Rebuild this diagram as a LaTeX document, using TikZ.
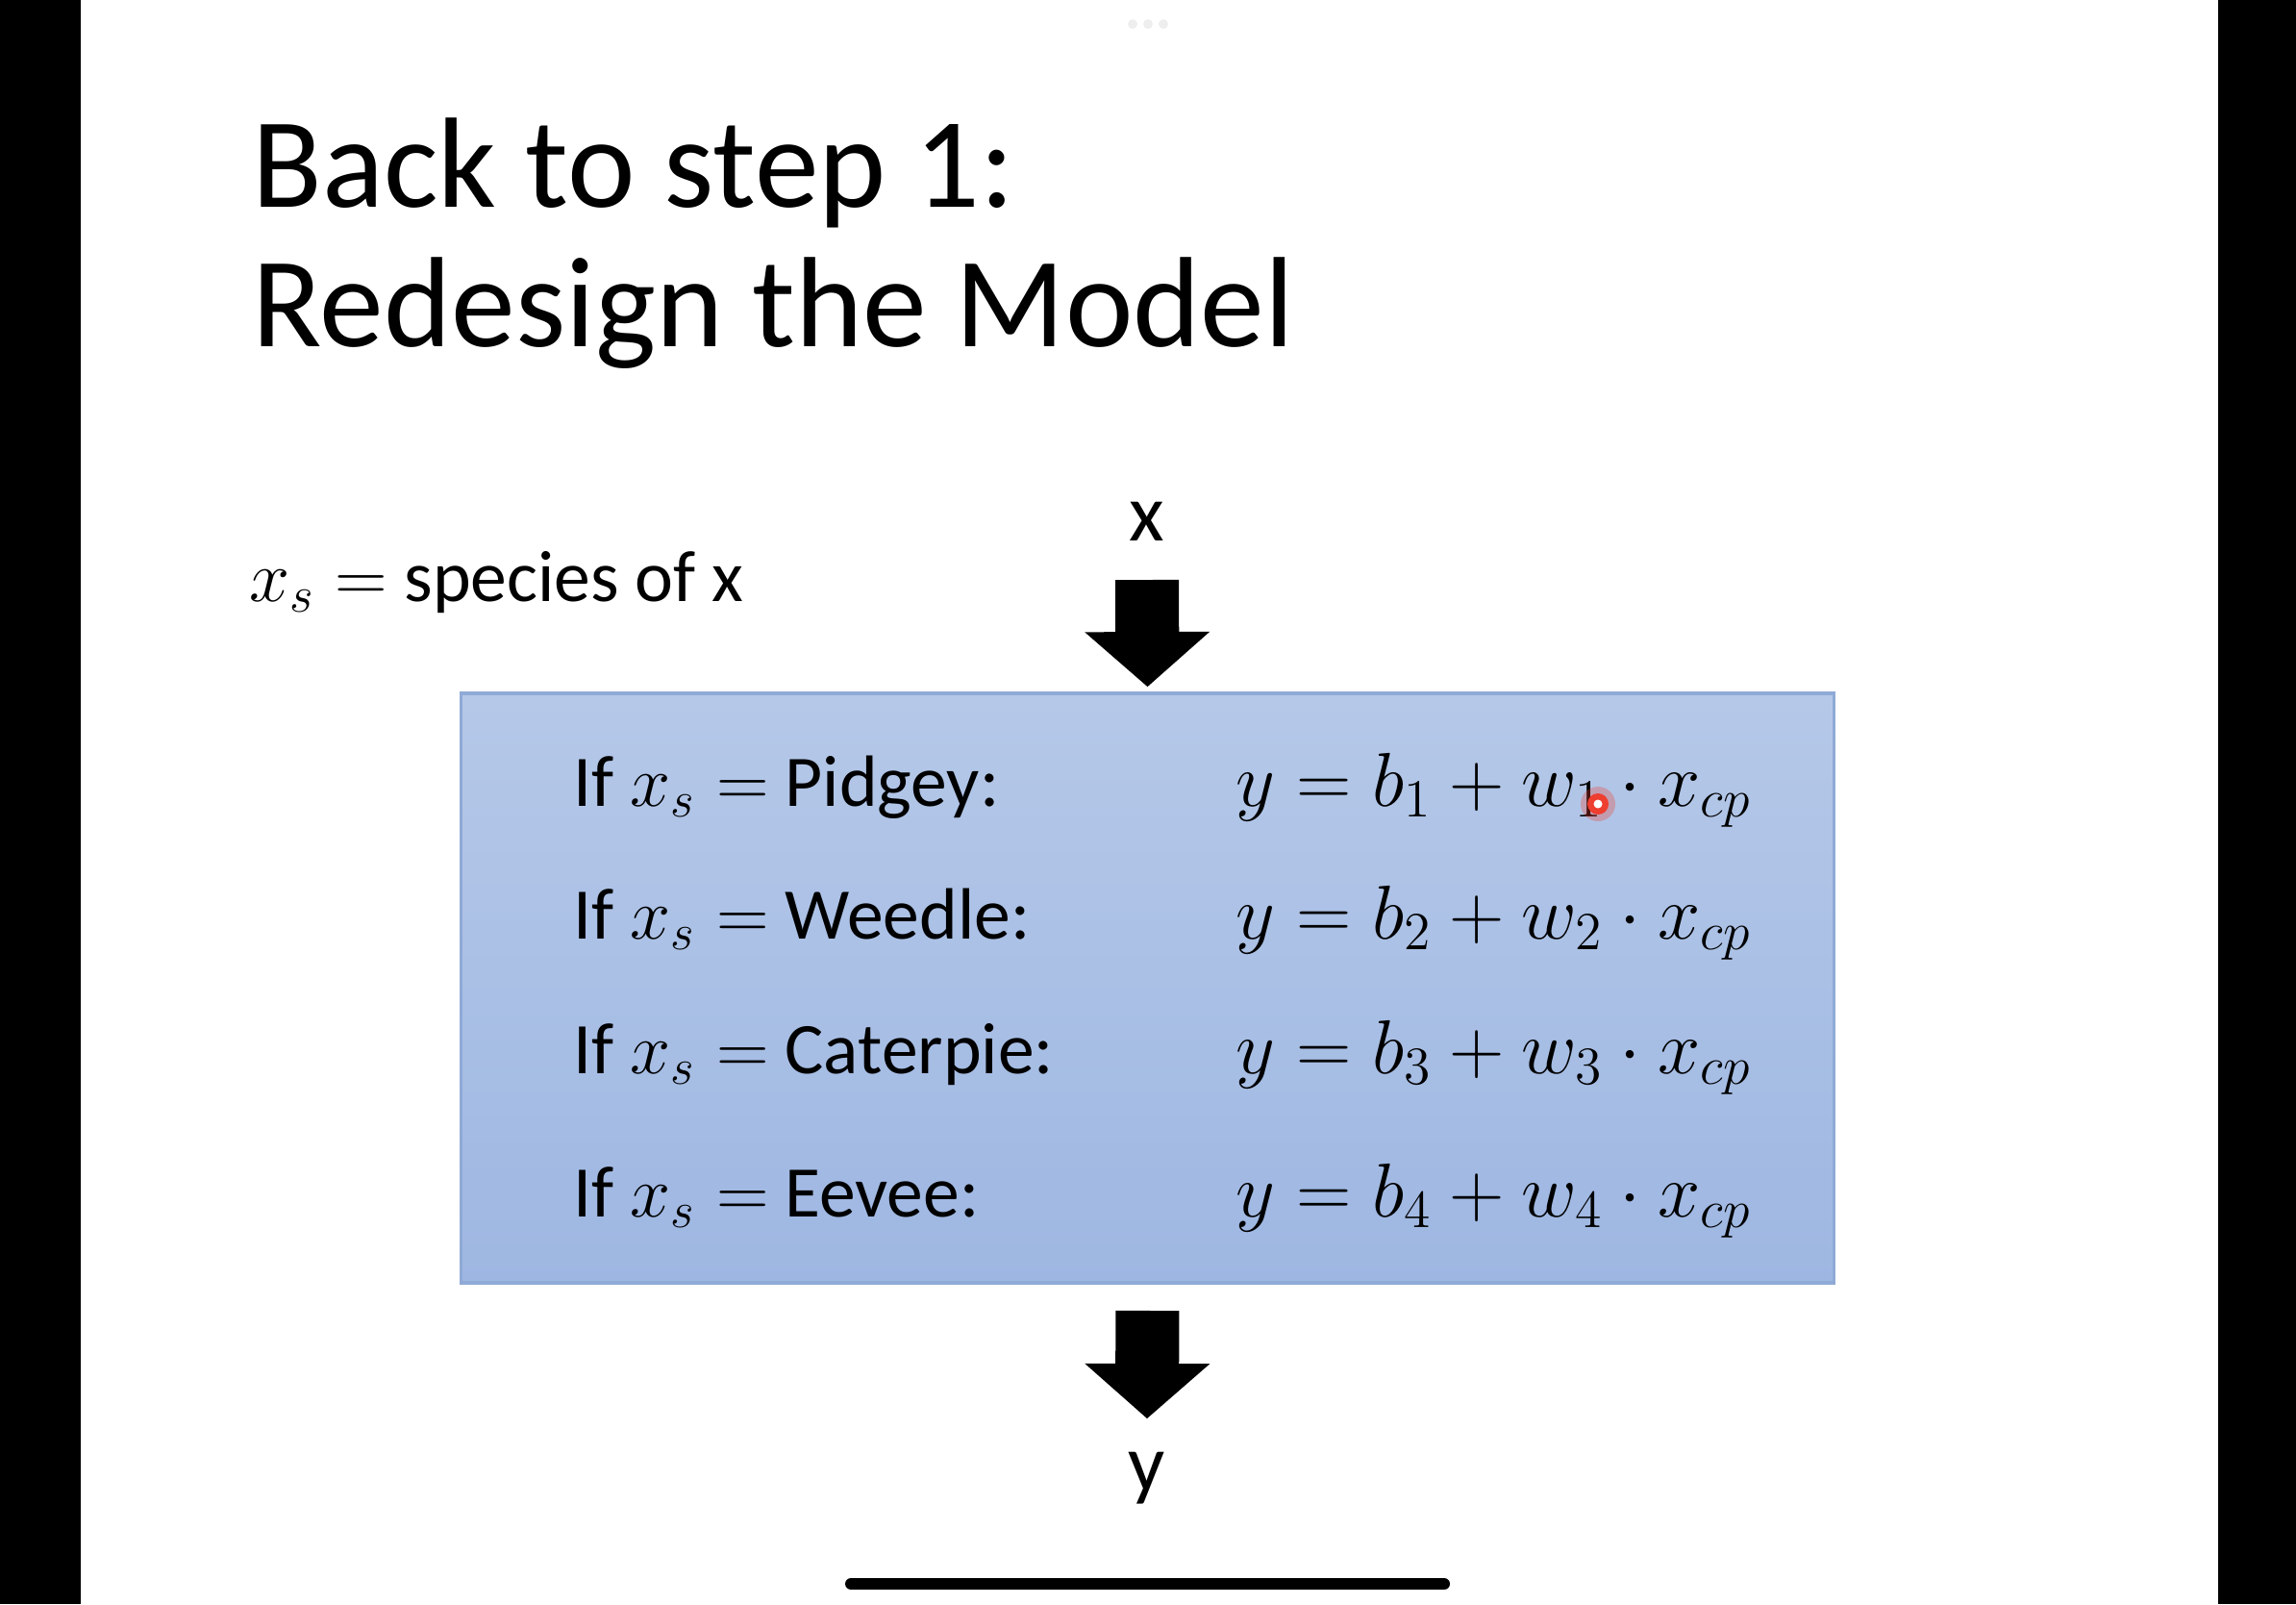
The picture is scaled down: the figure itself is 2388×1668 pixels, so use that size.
\documentclass[tikz,border=0pt]{standalone}
\usepackage{fix-cm}
\usepackage{fontspec}
\setmainfont{Carlito}
\usetikzlibrary{arrows.meta,positioning}
\definecolor{boxtop}{RGB}{181,200,232}
\definecolor{boxbottom}{RGB}{158,183,226}
\definecolor{boxedge}{RGB}{143,170,214}
\definecolor{dotgray}{RGB}{238,238,238}
\definecolor{laser}{RGB}{238,62,48}
\tikzset{
  titletext/.style={anchor=base west, inner sep=0pt, font=\fontsize{38}{46}\selectfont},
  bodytext/.style={anchor=base west, inner sep=0pt, font=\fontsize{21.5}{26}\selectfont},
  eqtext/.style={anchor=base west, inner sep=0pt, font=\fontsize{22.6}{27}\selectfont},
  iotext/.style={inner sep=0pt, font=\fontsize{24}{29}\selectfont},
  modelbox/.style={draw=boxedge, line width=1pt, top color=boxtop, bottom color=boxbottom,
    minimum width=14.27cm, minimum height=6.13cm, inner sep=0pt},
  blockarrow/.style={line width=0.66cm,
    -{Triangle[length=0.57cm, width=1.30cm, line width=0pt]}}
}

\begin{document}
\begin{tikzpicture}[x=0.01cm, y=-0.01cm]
  \useasboundingbox (0,0) rectangle (2388,1668);
  % screen frame
  \fill[black] (0,0) rectangle (84,1668);
  \fill[black] (2307,0) rectangle (2388,1668);
  \foreach \dx in {1178,1194,1210}
    \fill[dotgray] (\dx,25) circle (5);
  \draw[line width=0.12cm, line cap=round] (885,1647) -- (1502,1647);

  % title
  \node[titletext] (titlea) at (262,215) {Back to step 1:};
  \node[titletext] (titleb) at (262,360) {Redesign the Model};
  \node[bodytext] (species) at (259,625) {$x_s =$ species of x};

  % model
  \node[iotext] (xin) at (1193,542) {x};
  \node[modelbox] (model) at (1193.5,1027.5) {};
  \node[iotext] (yout) at (1193,1537) {y};
  \coordinate (xtail) at (1193,603);
  \coordinate (ytip) at (1193,1475);
  \draw[blockarrow, shorten >=0.05cm] (xtail) -- (model.north);
  \draw[blockarrow, shorten <=0.27cm] (model.south) -- (ytip);

  \foreach \i/\sp/\yb in {1/Pidgey/838, 2/Weedle/976, 3/Caterpie/1116, 4/Eevee/1265} {
    \node[bodytext] (cond\i) at (596,\yb) {If $x_s =$ \sp:};
    \node[eqtext] (eq\i) at (1285,\yb) {$y = b_\i + w_\i \cdot x_{cp}$};
  }

  % laser pointer
  \fill[laser, opacity=0.3] (1662,836) circle (18);
  \fill[laser] (1662,836) circle (11);
  \fill[white] (1662,836) circle (4.5);
\end{tikzpicture}
\end{document}
